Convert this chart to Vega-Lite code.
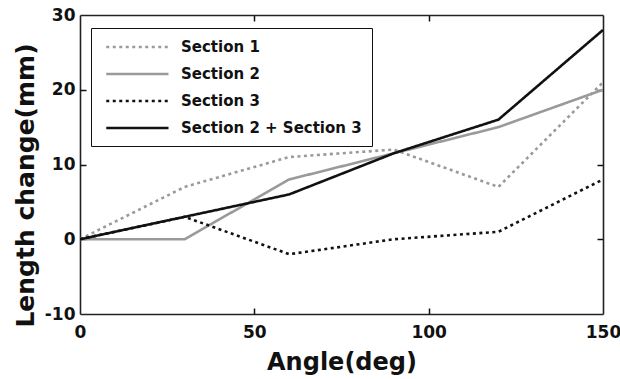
{
  "$schema": "https://vega.github.io/schema/vega-lite/v6.json",
  "width": 523,
  "height": 299,
  "autosize": "none",
  "padding": {"left": 80, "top": 15, "right": 17, "bottom": 65},
  "background": "white",
  "config": {
    "font": "DejaVu Sans",
    "view": {"stroke": null},
    "axis": {
      "domainColor": "#222",
      "domainWidth": 1.6,
      "grid": false,
      "labelFont": "DejaVu Sans",
      "labelFontWeight": "bold",
      "labelFontSize": 17,
      "labelColor": "#111",
      "titleFont": "DejaVu Sans",
      "titleFontWeight": "bold",
      "titleFontSize": 24,
      "titleColor": "#111"
    }
  },
  "data": {
    "values": [
      {"angle": 0, "change": 0, "series": "Section 1"},
      {"angle": 30, "change": 7, "series": "Section 1"},
      {"angle": 60, "change": 11, "series": "Section 1"},
      {"angle": 90, "change": 12, "series": "Section 1"},
      {"angle": 120, "change": 7, "series": "Section 1"},
      {"angle": 150, "change": 21, "series": "Section 1"},
      {"angle": 0, "change": 0, "series": "Section 2"},
      {"angle": 30, "change": 0, "series": "Section 2"},
      {"angle": 60, "change": 8, "series": "Section 2"},
      {"angle": 90, "change": 11.5, "series": "Section 2"},
      {"angle": 120, "change": 15, "series": "Section 2"},
      {"angle": 150, "change": 20, "series": "Section 2"},
      {"angle": 0, "change": 0, "series": "Section 3"},
      {"angle": 30, "change": 3, "series": "Section 3"},
      {"angle": 60, "change": -2, "series": "Section 3"},
      {"angle": 90, "change": 0, "series": "Section 3"},
      {"angle": 120, "change": 1, "series": "Section 3"},
      {"angle": 150, "change": 8, "series": "Section 3"},
      {"angle": 0, "change": 0, "series": "Section 2 + Section 3"},
      {"angle": 30, "change": 3, "series": "Section 2 + Section 3"},
      {"angle": 60, "change": 6, "series": "Section 2 + Section 3"},
      {"angle": 90, "change": 11.5, "series": "Section 2 + Section 3"},
      {"angle": 120, "change": 16, "series": "Section 2 + Section 3"},
      {"angle": 150, "change": 28, "series": "Section 2 + Section 3"}
    ]
  },
  "resolve": {"axis": {"x": "independent", "y": "independent"}},
  "layer": [
    {
      "mark": {"type": "line", "strokeWidth": 2.6, "clip": true},
      "encoding": {
        "x": {
          "field": "angle", "type": "quantitative",
          "scale": {"domain": [0, 150], "nice": false, "zero": false},
          "axis": {"title": "Angle(deg)", "values": [0, 50, 100, 150], "ticks": false, "labelPadding": 10, "titlePadding": 10, "labelFlush": false}
        },
        "y": {
          "field": "change", "type": "quantitative",
          "scale": {"domain": [-10, 30], "nice": false, "zero": false},
          "axis": {"title": "Length change(mm)", "titleFontSize": 25, "values": [-10, 0, 10, 20, 30], "ticks": false, "labelPadding": 5, "titlePadding": 6, "titleY": 170, "labelExpr": "'' + datum.value"}
        },
        "color": {
          "field": "series", "type": "nominal",
          "scale": {
            "domain": ["Section 1", "Section 2", "Section 3", "Section 2 + Section 3"],
            "range": ["#9a9a9a", "#9a9a9a", "#111111", "#111111"]
          },
          "legend": {
            "title": null,
            "orient": "none",
            "legendX": 11,
            "legendY": 13,
            "direction": "vertical",
            "symbolType": "M-0.5,0H7.8",
            "symbolSize": 225,
            "symbolStrokeWidth": 2.6,
            "labelFont": "DejaVu Sans",
            "labelFontWeight": "bold",
            "labelFontSize": 15,
            "labelColor": "#111",
            "labelOffset": 62,
            "labelLimit": 400,
            "rowPadding": 10,
            "padding": 10,
            "strokeColor": "#111",
            "fillColor": "white",
            "cornerRadius": 0
          }
        },
        "strokeDash": {
          "field": "series", "type": "nominal",
          "scale": {
            "domain": ["Section 1", "Section 2", "Section 3", "Section 2 + Section 3"],
            "range": [[3, 3.5], [1, 0], [3, 3.5], [1, 0]]
          },
          "legend": null
        },
        "order": {"field": "angle"}
      }
    },
    {
      "description": "inward ticks along the bottom and left frame edges",
      "mark": {"type": "rule", "opacity": 0},
      "encoding": {
        "x": {
          "field": "angle", "type": "quantitative",
          "scale": {"domain": [0, 150], "nice": false, "zero": false},
          "axis": {"orient": "top", "offset": -299, "title": null, "labels": false, "domain": false, "ticks": true, "tickColor": "#111111", "tickSize": 6, "tickWidth": 1.5, "values": [50, 100]}
        },
        "y": {
          "field": "change", "type": "quantitative",
          "scale": {"domain": [-10, 30], "nice": false, "zero": false},
          "axis": {"orient": "right", "offset": -523, "title": null, "labels": false, "domain": false, "ticks": true, "tickColor": "#111111", "tickSize": 6, "tickWidth": 1.5, "values": [0, 10, 20]}
        }
      }
    },
    {
      "description": "top and right frame edges with inward ticks",
      "mark": {"type": "rule", "opacity": 0},
      "encoding": {
        "x": {
          "field": "angle", "type": "quantitative",
          "scale": {"domain": [0, 150], "nice": false, "zero": false},
          "axis": {"orient": "bottom", "offset": -299, "title": null, "labels": false, "ticks": true, "tickColor": "#111111", "tickSize": 6, "tickWidth": 1.5, "values": [50, 100]}
        },
        "y": {
          "field": "change", "type": "quantitative",
          "scale": {"domain": [-10, 30], "nice": false, "zero": false},
          "axis": {"orient": "left", "offset": -523, "title": null, "labels": false, "ticks": true, "tickColor": "#111111", "tickSize": 6, "tickWidth": 1.5, "values": [0, 10, 20]}
        }
      }
    }
  ]
}
